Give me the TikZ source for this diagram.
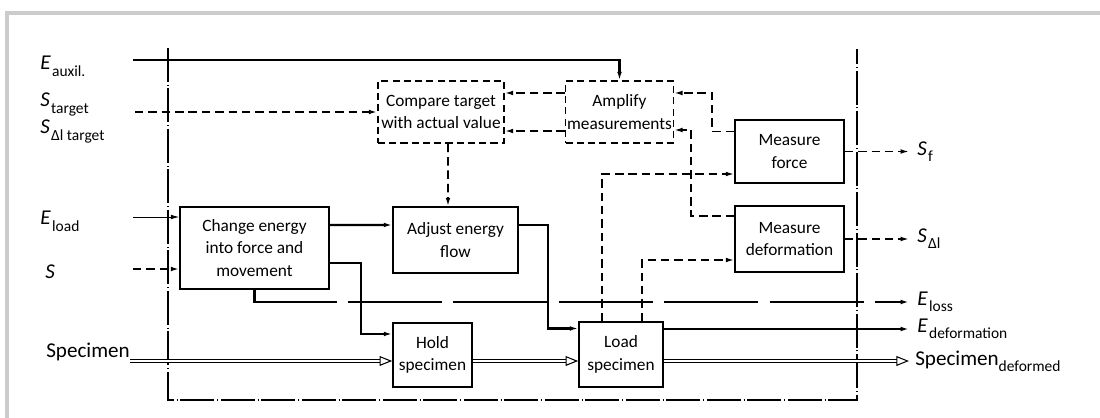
\documentclass[tikz,border=0pt]{standalone}
\usepackage{fontspec}
\setmainfont{Carlito}
\usetikzlibrary{arrows.meta}
\newcommand{\subpart}[1]{\raisebox{-0.6ex}{\fontsize{11}{11}\selectfont #1}}

\begin{document}
\begin{tikzpicture}[x=0.025cm, y=-0.025cm, >={Latex[length=6pt,width=3.4pt]},
	box/.style={draw, line width=1.1pt, align=center, inner sep=1pt, font=\fontsize{12.3}{16}\selectfont},
	sbox/.style={box, dash pattern=on 5pt off 3pt},
	energy/.style={line width=1.6pt},
	signal/.style={line width=1.1pt, dash pattern=on 6pt off 3.5pt},
	matter/.style={double, double distance=1.6pt, line width=0.75pt, -{Triangle[open,length=9pt,width=7pt]}},
	lbl/.style={font=\fontsize{15}{16}\selectfont, inner sep=0pt}]
	\useasboundingbox (0,0) rectangle (1100,418);
	
	% === frame and system boundary ===
	\draw[gray!40, line width=2.2pt] (7,418) -- (7,13) -- (1100,13);
	\draw[line width=0.9pt, dash pattern=on 24pt off 2pt on 0.8pt off 2pt] (168,48) -- (168,400) -- (857,400) -- (857,49);
	
	% === functions ===
	\node[sbox, minimum width=3.15cm, minimum height=1.55cm] (cmp) at (441,112) {Compare target\\with actual value};
	\node[sbox, minimum width=2.675cm, minimum height=1.55cm] (amp) at (619.5,112) {Amplify\\measurements};
	\node[box, minimum width=3.725cm, minimum height=2.05cm] (chg) at (254.5,248) {Change energy\\into force and\\movement};
	\node[box, minimum width=3.125cm, minimum height=1.65cm] (adj) at (455.5,240) {Adjust energy\\flow};
	\node[box, minimum width=1.975cm, minimum height=1.6cm] (hold) at (432.5,355) {Hold\\specimen};
	\node[box, minimum width=2.1cm, minimum height=1.625cm] (load) at (621,354.5) {Load\\specimen};
	\node[box, minimum width=2.725cm, minimum height=1.575cm] (force) at (789.5,151.5) {Measure\\force};
	\node[box, minimum width=2.725cm, minimum height=1.65cm] (def) at (789.5,239) {Measure\\deformation};
	
	% === inputs ===
	\coordinate (eaux) at (133,60);
	\coordinate (stgt) at (135,112);
	\coordinate (eload) at (133,217);
	\coordinate (sin) at (133,269);
	\coordinate (spin) at (130,361);
	\node[lbl, anchor=base west] (laux) at (40,70) {\textit{E}\kern1pt\subpart{auxil.}};
	\node[lbl, anchor=base west] (ltgt) at (40,107) {\textit{S}\kern1pt\subpart{target}};
	\node[lbl, anchor=base west] (ldtgt) at (40,134) {\textit{S}\kern1pt\subpart{Δl target}};
	\node[lbl, anchor=base west] (lload) at (40,225) {\textit{E}\kern1pt\subpart{load}};
	\node[lbl, anchor=base west] (ls) at (45,279) {\textit{S}};
	\node[lbl, anchor=base west] (lspec) at (46,358) {Specimen};
	
	% === outputs ===
	\coordinate (sf) at (909,151.5);
	\coordinate (sdl) at (909,239);
	\coordinate (eloss) at (909,302);
	\coordinate (edef) at (909,329);
	\coordinate (spout) at (909,361);
	\node[lbl, anchor=west] (lsf) at ([xshift=0.2cm]sf) {\textit{S}\kern1pt\subpart{f}};
	\node[lbl, anchor=west] (lsdl) at ([xshift=0.2cm]sdl) {\textit{S}\kern1pt\subpart{Δl}};
	\node[lbl, anchor=west] (lloss) at ([xshift=0.2cm]eloss) {\textit{E}\kern1pt\subpart{loss}};
	\node[lbl, anchor=west] (ldef) at ([xshift=0.2cm]edef) {\textit{E}\kern1pt\subpart{deformation}};
	\node[lbl, anchor=west] (lspout) at ([xshift=0.15cm]spout) {Specimen\subpart{deformed}};
	
	% signal flow
	\draw[energy,->] (eaux) -| (amp.north);
	\draw[signal, line width=1.3pt, ->] (stgt) -- (cmp.west);
	\draw[signal,->] ([yshift=0.475cm]amp.west) -- ([yshift=0.475cm]cmp.east);
	\draw[signal,->] ([yshift=-0.475cm]amp.west) -- ([yshift=-0.475cm]cmp.east);
	\draw[signal,->] ([yshift=0.5cm]force.west) -- ++(-22,0) |- ([yshift=0.475cm]amp.east);
	\draw[signal,->] ([yshift=0.575cm]def.west) -- ++(-43,0) |- ([yshift=-0.45cm]amp.east);
	\draw[signal,->] ([xshift=0.175cm]cmp.south) -- ([xshift=-0.1875cm]adj.north);
	\draw[signal,->] (force.east) -- (sf);
	\draw[signal,->] (def.east) -- (sdl);
	\draw[signal,->] ([xshift=-0.475cm]load.north) |- ([yshift=-0.5625cm]force.west);
	\draw[signal,->] ([xshift=0.525cm]load.north) |- ([yshift=-0.525cm]def.west);
	
	% energy flow
	\draw[line width=0.6pt, ->] (eload) -- (eload -| chg.west);
	\draw[signal, line width=1.4pt, ->] (sin) -- (sin -| chg.west);
	\draw[energy,->] ([yshift=0.575cm]chg.east) -- ([yshift=0.375cm]adj.west);
	\draw[energy,->] ([yshift=-0.375cm]chg.east) -- ++(31,0) |- ([yshift=0.525cm]hold.west);
	\draw[energy,->] ([yshift=0.375cm]adj.east) -- ++(29,0) |- ([yshift=0.65cm]load.west);
	\draw[energy, dash pattern=on 67pt off 8pt, ->] (chg.south) |- (eloss);
	\draw[line width=1.2pt, ->] (load.east |- edef) -- (edef);
	
	% material flow
	\draw[matter] (spin) -- (spin -| hold.west);
	\draw[matter] (hold.east |- spin) -- (load.west |- spin);
	\draw[matter] (load.east |- spin) -- (spout);
\end{tikzpicture}
\end{document}
